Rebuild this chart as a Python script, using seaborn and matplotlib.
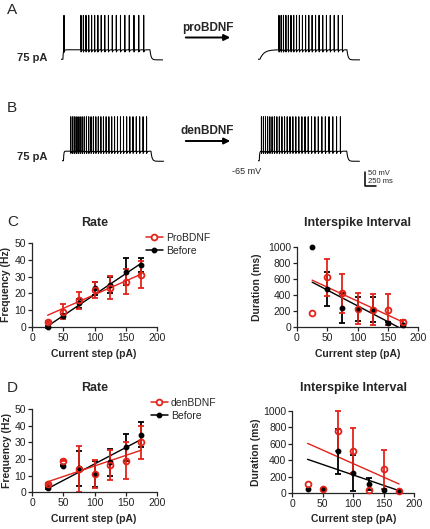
# BDNF firing figure: example traces (A, B) and rate / ISI plots (C, D)
import numpy as np
import matplotlib
matplotlib.use("Agg")
import matplotlib.pyplot as plt
from matplotlib.lines import Line2D
import seaborn as sns

# ---------------- data ----------------
current = [25, 50, 75, 100, 125, 150, 175]
fit_x = [25, 175]

# C: proBDNF vs before
c_pro_rate = [3, 9, 16, 22, 23.5, 27, 31]
c_pro_rate_err = [0.5, 4.5, 5, 5, 7, 7.5, 8]
c_bef_rate = [0, 6.5, 14, 23, 25, 33, 37]
c_bef_rate_err = [0.5, 1, 2.5, 4, 5, 8, 4]
c_pro_rate_fit = [7, 31.5]
c_bef_rate_fit = [0.5, 38]

c_pro_isi = [180, 620, 420, 230, 220, 220, 65]
c_pro_isi_err = [0, 230, 240, 195, 195, 195, 30]
c_bef_isi = [1000, 480, 240, 230, 220, 50, 30]
c_bef_isi_err = [0, 210, 190, 150, 150, 20, 10]
c_pro_isi_fit = [585, 65]
c_bef_isi_fit_x = [25, 168]
c_bef_isi_fit = [560, 0]

# D: denBDNF vs before
d_den_rate = [5, 19, 14, 11, 16.5, 19, 30]
d_den_rate_err = [0.5, 0.5, 14, 8.5, 9, 11, 10]
d_bef_rate = [2.5, 16, 14.5, 11, 18, 27, 34.5]
d_bef_rate_err = [0.5, 0.5, 10.5, 8, 8, 8, 7.5]
d_den_rate_fit = [6.3, 25.3]
d_bef_rate_fit = [2.2, 31.8]

d_den_isi = [110, 50, 760, 520, 40, 290, 30]
d_den_isi_err = [0, 0, 245, 270, 0, 240, 0]
d_bef_isi = [50, 50, 510, 250, 110, 40, 30]
d_bef_isi_err = [0, 0, 270, 220, 70, 0, 0]
d_den_isi_fit = [607, 113]
d_bef_isi_fit = [413, 32]

# spike times (ms) of the example traces, 75 pA step
spikes_a_before = [75, 461, 516, 575, 637, 703, 772, 845, 922, 1002, 1086, 1174,
                   1265, 1360, 1458, 1560, 1666, 1775, 1888]
spikes_a_pro = [484, 534, 586, 641, 698, 757, 819, 883, 949, 1018, 1089, 1162,
                1238, 1316, 1396, 1479, 1564, 1651, 1741, 1833, 1928]
spikes_b_before = [204, 244, 285, 328, 372, 418, 465, 513, 563, 614, 667, 721, 776,
                   833, 891, 950, 1011, 1073, 1137, 1202, 1269, 1337, 1406, 1477,
                   1549, 1622, 1697, 1773, 1851, 1930]
spikes_b_den = [90, 135, 182, 230, 280, 332, 385, 440, 497, 555, 615, 676, 739, 804,
                871, 939, 1009, 1081, 1154, 1229, 1305, 1383, 1463, 1544, 1627, 1712,
                1798, 1886]

RED = '#e2231a'

# ---------------- style ----------------
sns.set_style("ticks")
plt.rcParams['font.family'] = ['Liberation Sans', 'DejaVu Sans']
plt.rcParams['axes.linewidth'] = 0.9

W, H = 430, 529
fig = plt.figure(figsize=(4.3, 5.29), dpi=100)


def fx(px):
    return px / W


def fy(py):
    return 1 - py / H


def add_ax(box):
    x0, y0, x1, y1 = box
    return fig.add_axes([fx(x0), fy(y1), (x1 - x0) / W, (y1 - y0) / H])


# ---------------- traces ----------------
T_END, STEP_OFF, REST, PLATEAU, PEAK = 2320, 2030, -65.0, -31.0, 92.0


def make_trace(spikes, on, tau_on):
    t = np.arange(0, T_END, 1.0)
    v = np.full(t.shape, REST)
    st = (t >= on) & (t < STEP_OFF)
    v[st] = PLATEAU - (PLATEAU - REST) * np.exp(-(t[st] - on) / tau_on)
    for s in spikes:
        aft = (t > s + 1) & (t < STEP_OFF)
        v[aft] -= 9 * np.exp(-(t[aft] - s) / 14)
    for s in spikes:
        v[int(s)] = PEAK
    off = t >= STEP_OFF
    v_end = v[STEP_OFF - 1]
    v[off] = (REST - 2) + (v_end - REST + 2) * np.exp(-(t[off] - STEP_OFF) / 25)
    return t, v


trace_boxes = [
    ((60.7, 13.1, 162.7, 62.1), spikes_a_before, 50, 8),
    ((257.7, 13.1, 359.7, 62.1), spikes_a_pro, 50, 90),
    ((61.7, 114.5, 163.7, 163.5), spikes_b_before, 40, 8),
    ((257.5, 114.5, 359.5, 163.5), spikes_b_den, 40, 8),
]
trace_axes = []
for box, sp, on, tau in trace_boxes:
    ax = add_ax(box)
    t, v = make_trace(sp, on, tau)
    sns.lineplot(x=t, y=v, ax=ax, color='black', lw=0.75, estimator=None, sort=False)
    ax.set_xlim(0, T_END)
    ax.set_ylim(-75, 100)
    ax.axis('off')
    trace_axes.append(ax)

# scale bar in the last trace axes
sb = trace_axes[3]
sb.plot([2445, 2445, 2695], [-105, -155, -155], color='black', lw=1.1, clip_on=False)
sb.text(2520, -112, '50 mV', fontsize=5.5, va='center', ha='left')
sb.text(2520, -140, '250 ms', fontsize=5.5, va='center', ha='left')

# labels around traces
for lab, py in [('A', 10), ('B', 108), ('C', 222), ('D', 388)]:
    fig.text(fx(7), fy(py), lab, fontsize=11, va='center', ha='left')
for py in [58, 157]:
    fig.text(fx(17), fy(py), '75 pA', fontsize=8, fontweight='bold', va='center')
fig.text(fx(207.5), fy(28), 'proBDNF', fontsize=8.5, fontweight='bold', ha='center', va='center')
fig.text(fx(207.5), fy(131), 'denBDNF', fontsize=8.5, fontweight='bold', ha='center', va='center')
for py in [37.5, 141]:
    fig.add_artist(matplotlib.patches.FancyArrowPatch(
        (fx(183), fy(py)), (fx(233), fy(py)), transform=fig.transFigure,
        arrowstyle='-|>', mutation_scale=9, lw=1.4, color='black'))
fig.text(fx(261), fy(171), '-65 mV', fontsize=6.5, ha='right', va='center')


# ---------------- graphs ----------------
def draw_group(ax, y, err, color, open_marker):
    x = np.asarray(current, float)
    y = np.asarray(y, float)
    err = np.asarray(err, float)
    m = err > 0
    eb = ax.errorbar(x[m], y[m], yerr=err[m], fmt='none', ecolor=color,
                     elinewidth=1.3, capsize=2.2, capthick=1.3)
    for a in eb.get_children():
        a.set_clip_on(False)
    if open_marker:
        ax.plot(x, y, 'o', ms=4.2, mfc='none', mec=color, mew=1.3, clip_on=False, zorder=4)
    else:
        ax.plot(x, y, 'o', ms=3.2, color=color, clip_on=False, zorder=3)


def style(ax, box, ymax, yticks, title, ylabel, title_y, xlab_xy, ylab_x):
    ax.set_xlim(0, 200)
    ax.set_ylim(0, ymax)
    ax.set_xticks([0, 50, 100, 150, 200])
    ax.set_yticks(yticks)
    sns.despine(ax=ax)
    ax.tick_params(length=3, width=0.9, labelsize=7.5, pad=1.2, colors='#222222')
    ax.set_xlabel('Current step (pA)', fontsize=7.5, fontweight='bold', va='center')
    ax.set_ylabel(ylabel, fontsize=7.5, fontweight='bold', va='center')
    ax.xaxis.set_label_coords(fx(xlab_xy[0]), fy(xlab_xy[1]), transform=fig.transFigure)
    ax.yaxis.set_label_coords(fx(ylab_x), fy((box[1] + box[3]) / 2), transform=fig.transFigure)
    fig.text(fx((box[0] + box[2]) / 2), fy(title_y), title, fontsize=9,
             fontweight='bold', ha='center', va='center')


def fit_line(ax, xs, ys, color):
    sns.lineplot(x=xs, y=ys, ax=ax, color=color, lw=1.0, estimator=None)


box_c1 = (32, 243, 157, 327)
box_c2 = (297, 246.7, 418, 327.3)
box_d1 = (32, 409, 157, 492.3)
box_d2 = (292.3, 411, 414.3, 493.3)

# C rate
ax = add_ax(box_c1)
fit_line(ax, fit_x, c_bef_rate_fit, 'black')
fit_line(ax, fit_x, c_pro_rate_fit, RED)
draw_group(ax, c_bef_rate, c_bef_rate_err, 'black', False)
draw_group(ax, c_pro_rate, c_pro_rate_err, RED, True)
style(ax, box_c1, 50, [0, 10, 20, 30, 40, 50], 'Rate', 'Frequency (Hz)', 223, (93.5, 354), 6)
handles = [Line2D([0], [0], color=RED, lw=1.1, marker='o', ms=4.2, mfc='white', mec=RED, mew=1.3),
           Line2D([0], [0], color='black', lw=1.1, marker='o', ms=3.2)]
ax.legend(handles, ['ProBDNF', 'Before'], loc='upper left', frameon=False,
          bbox_to_anchor=(fx(146), fy(233)), bbox_transform=fig.transFigure,
          fontsize=7.5, handlelength=1.6, handletextpad=0.3, labelspacing=0.3,
          borderpad=0, borderaxespad=0)

# C interspike interval
ax = add_ax(box_c2)
fit_line(ax, c_bef_isi_fit_x, c_bef_isi_fit, 'black')
fit_line(ax, fit_x, c_pro_isi_fit, RED)
draw_group(ax, c_bef_isi, c_bef_isi_err, 'black', False)
draw_group(ax, c_pro_isi, c_pro_isi_err, RED, True)
style(ax, box_c2, 1000, [0, 200, 400, 600, 800, 1000], 'Interspike Interval',
      'Duration (ms)', 223, (357.5, 354), 256.5)

# D rate
ax = add_ax(box_d1)
fit_line(ax, fit_x, d_bef_rate_fit, 'black')
fit_line(ax, fit_x, d_den_rate_fit, RED)
draw_group(ax, d_bef_rate, d_bef_rate_err, 'black', False)
draw_group(ax, d_den_rate, d_den_rate_err, RED, True)
style(ax, box_d1, 50, [0, 10, 20, 30, 40, 50], 'Rate', 'Frequency (Hz)', 388, (94, 518.5), 7)
ax.legend(handles, ['denBDNF', 'Before'], loc='upper left', frameon=False,
          bbox_to_anchor=(fx(151), fy(398)), bbox_transform=fig.transFigure,
          fontsize=7.5, handlelength=1.6, handletextpad=0.3, labelspacing=0.3,
          borderpad=0, borderaxespad=0)

# D interspike interval
ax = add_ax(box_d2)
fit_line(ax, fit_x, d_bef_isi_fit, 'black')
fit_line(ax, fit_x, d_den_isi_fit, RED)
draw_group(ax, d_bef_isi, d_bef_isi_err, 'black', False)
draw_group(ax, d_den_isi, d_den_isi_err, RED, True)
style(ax, box_d2, 1000, [0, 200, 400, 600, 800, 1000], 'Interspike Interval',
      'Duration (ms)', 388, (354, 519), 256)

fig.savefig('out.png', dpi=100)
